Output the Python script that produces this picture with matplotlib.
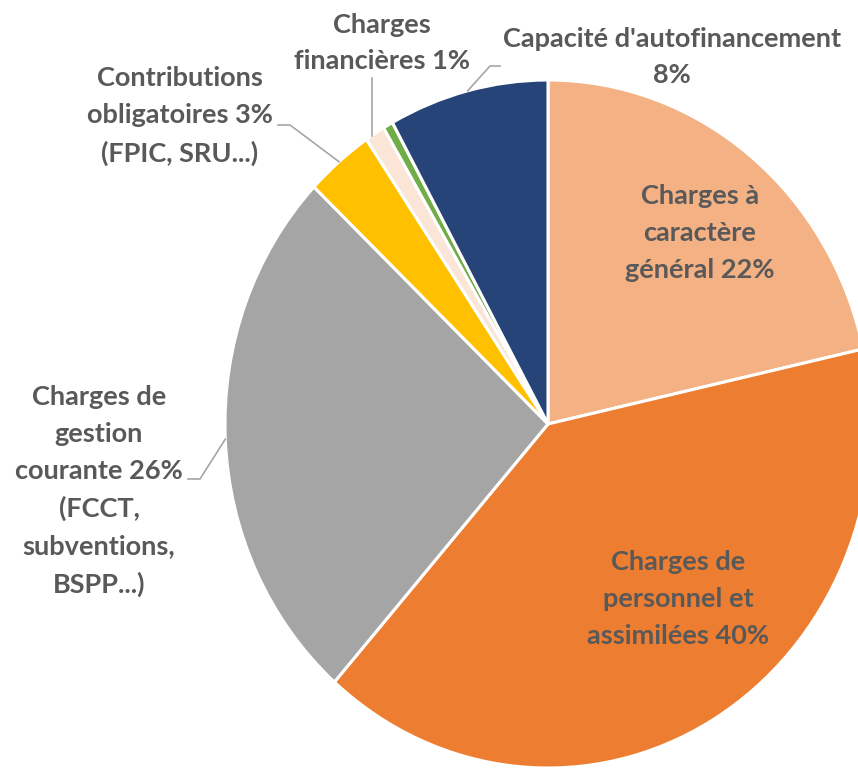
import numpy as np
import matplotlib
matplotlib.use("Agg")
import matplotlib.pyplot as plt

# ---- data ----
categories = [
    "Charges à\ncaractère\ngénéral 22%",
    "Charges de\npersonnel et\nassimilées 40%",
    "Charges de\ngestion\ncourante 26%\n(FCCT,\nsubventions,\nBSPP...)",
    "Contributions\nobligatoires 3%\n(FPIC, SRU...)",
    "Charges\nfinancières 1%",
    "",
    "Capacité d'autofinancement\n8%",
]
values = [21.5, 40.0, 25.6, 3.4, 1.0, 0.5, 8.0]
colors = ["#F4B183", "#ED7D31", "#A5A5A5", "#FFC000", "#FBE5D6", "#70AD47", "#264478"]

W, H = 858, 768
fig = plt.figure(figsize=(W / 100, H / 100), dpi=100)
ax = fig.add_axes([0, 0, 1, 1])

wedges, _ = ax.pie(values, colors=colors, startangle=90, counterclock=False,
                   radius=1.0,
                   wedgeprops=dict(edgecolor="white", linewidth=2.2))

# elliptical pie as in reference (stretched image)
cx, cy, rx, ry = 548, 424, 323, 344
ax.set_aspect("auto")
ax.set_xlim(-cx / rx, (W - cx) / rx)
ax.set_ylim(-(H - cy) / ry, cy / ry)
ax.axis("off")

txt_color = "#595959"
font = dict(family=["Lato", "DejaVu Sans"], fontweight="bold", fontsize=19.5,
            color=txt_color, ha="center", va="center", linespacing=1.64)

def fpos(x, y):
    return (x / W, 1 - y / H)

# label centers (pixels)
label_pos = [(700, 233), (678, 599), (99, 491), (180, 116), (382, 43), None, (672, 57)]
for lab, pos in zip(categories, label_pos):
    if pos is None or not lab:
        continue
    fig.text(*fpos(*pos), lab, **font)

# leader lines: text-side points in pixels, end on wedge edge
def edge_point(i, frac=0.5):
    w = wedges[i]
    ang = np.deg2rad(w.theta1 + (w.theta2 - w.theta1) * frac)
    return np.cos(ang), np.sin(ang)

def to_data(x, y):
    return (x - cx) / rx, (cy - y) / ry

lc = "#A6A6A6"
leaders = {
    2: [(188, 479), (200, 479)],
    3: [(278, 125), (290, 125)],
    4: [(372, 78), (372, 80)],
    6: [(500, 66), (490, 66)],
}
for i, pts in leaders.items():
    xs = [to_data(*p)[0] for p in pts]
    ys = [to_data(*p)[1] for p in pts]
    ex, ey = edge_point(i)
    if i == 4:
        ex = xs[-1]
        ey = np.sqrt(max(0.0, 1 - ex ** 2))
    xs.append(ex * 1.0)
    ys.append(ey * 1.0)
    ax.plot(xs, ys, color=lc, lw=1.2, clip_on=False)

fig.savefig("out.png", dpi=100, facecolor="white")
